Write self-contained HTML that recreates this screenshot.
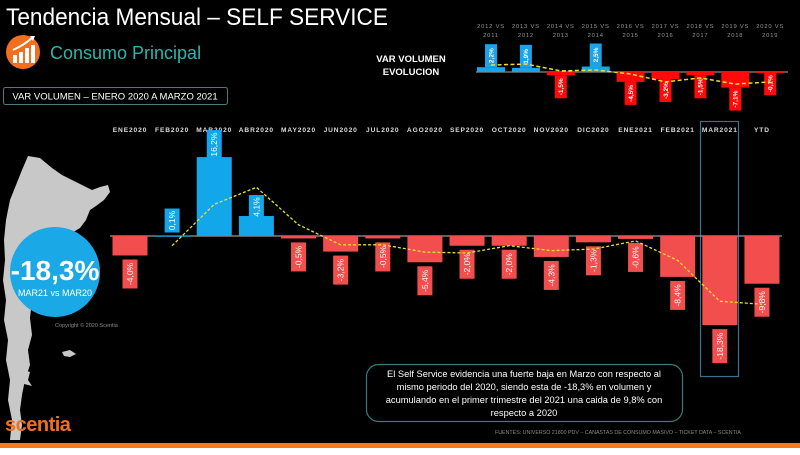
<!DOCTYPE html>
<html><head><meta charset="utf-8">
<style>
html,body{margin:0;padding:0;background:#fff;}
#root{position:relative;width:800px;height:455px;overflow:hidden;background:#000;font-family:"Liberation Sans",sans-serif;}
svg{position:absolute;left:0;top:0;}
</style></head>
<body>
<div id="root">
<svg id="svg" width="800" height="455" viewBox="0 0 800 455">
  <polygon fill="#c8c8c8" points="28,156 40,158 52,168 62,175 72,180 82,185 92,190 100,187 108,185 110,192 104,200 96,206 90,210 86,220 80,228 70,234 62,240 50,250 40,255 35,268 33,285 32,300 30,318 32,335 28,350 30,365 25,380 22,395 20,410 22,425 20,440 10,440 12,420 8,400 10,380 6,360 8,340 4,320 6,300 3,280 5,260 4,240 6,220 10,200 16,185 22,170"/>
  <polygon fill="#c8c8c8" points="18,368 30,372 28,380 32,386 24,384 18,378"/>
  <polygon fill="#c8c8c8" points="62,352 70,350 76,354 70,357 64,356"/>
  <circle cx="55" cy="272" r="45" fill="#1aa9e6"/>
  <text x="55" y="280" text-anchor="middle" fill="#fff" font-size="28" font-weight="bold">-18,3%</text>
  <text x="55" y="296" text-anchor="middle" fill="#fff" font-size="9">MAR21 vs MAR20</text>
  <text x="55" y="327" fill="#888" font-size="5.5">Copyright © 2020 Scentia</text>

  <text x="6" y="25" fill="#fff" font-size="24" textLength="382" lengthAdjust="spacingAndGlyphs">Tendencia Mensual –  SELF SERVICE</text>
  <g>
    <circle cx="23" cy="52" r="17" fill="#f07020"/>
    <rect x="13" y="55" width="4" height="8" fill="#fff"/>
    <rect x="19" y="52" width="4" height="11" fill="#fff"/>
    <rect x="25" y="48" width="4" height="15" fill="#fff"/>
    <rect x="31" y="45" width="4" height="18" fill="#fff"/>
    <path d="M13 50 Q24 45 32 38" stroke="#fff" stroke-width="2" fill="none"/>
    <polygon points="30,36 35,36 33,41" fill="#fff"/>
  </g>
  <text x="50" y="59" fill="#2cb5ae" font-size="18">Consumo Principal</text>
  <rect x="3.5" y="87.5" width="224" height="17" rx="2" fill="none" stroke="#4d7a80" stroke-width="1"/>
  <text x="115" y="99.5" text-anchor="middle" fill="#fff" font-size="9.5">VAR VOLUMEN – ENERO 2020 A MARZO 2021</text>

  <text x="411" y="62" text-anchor="middle" fill="#fff" font-size="9.5" font-weight="bold">VAR VOLUMEN</text>
  <text x="411" y="75" text-anchor="middle" fill="#fff" font-size="9.5" font-weight="bold">EVOLUCION</text>

  <rect x="700.5" y="121.5" width="38" height="255" fill="none" stroke="#3f6f8c" stroke-width="1.2"/>

  <g id="main"></g>
  <g id="small"></g>

  <rect x="366.5" y="364.5" width="316" height="57" rx="12" fill="#000" stroke="#3a7a7a" stroke-width="1.2"/>
  <g fill="#fff" font-size="9.3" text-anchor="middle">
    <text x="524" y="377">El Self Service evidencia una fuerte baja en Marzo con respecto al</text>
    <text x="524" y="390">mismo periodo del 2020, siendo esta de -18,3% en volumen y</text>
    <text x="524" y="403">acumulando en el primer trimestre del 2021 una caida de 9,8% con</text>
    <text x="524" y="416">respecto a 2020</text>
  </g>
  <text x="5" y="431" fill="#f07020" font-size="20" font-weight="bold" letter-spacing="-0.5">scentia</text>
  <text x="495" y="434" fill="#888" font-size="5.3">FUENTES: UNIVERSO 21800 PDV – CANASTAS DE CONSUMO MASIVO – TICKET DATA  – SCENTIA</text>
  <rect x="0" y="443" width="800" height="5" fill="#f47a20"/>
  <rect x="0" y="448" width="800" height="7" fill="#fff"/>
</svg>
</div>
<script>
const months = ["ENE2020","FEB2020","MAR2020","ABR2020","MAY2020","JUN2020","JUL2020","AGO2020","SEP2020","OCT2020","NOV2020","DIC2020","ENE2021","FEB2021","MAR2021","YTD"];
const monthValues = [-4.0,0.1,16.2,4.1,-0.5,-3.2,-0.5,-5.4,-2.0,-2.0,-4.3,-1.3,-0.6,-8.4,-18.3,-9.8];
const monthLabels = ["-4,0%","0,1%","16,2%","4,1%","-0,5%","-3,2%","-0,5%","-5,4%","-2,0%","-2,0%","-4,3%","-1,3%","-0,6%","-8,4%","-18,3%","-9,8%"];
const monthTrend = [null,-2.0,6.5,10.0,2.3,-1.8,-1.8,-3.3,-3.5,-2.0,-3.0,-2.7,-1.0,-5.0,-13.4,-14.0];

const years = [["2012 VS","2011"],["2013 VS","2012"],["2014 VS","2013"],["2015 VS","2014"],["2016 VS","2015"],["2017 VS","2016"],["2018 VS","2017"],["2019 VS","2018"],["2020 VS","2019"]];
const yearValues = [2.2,1.9,-1.5,2.5,-4.5,-3.2,-1.5,-7.1,-0.1];
const yearLabels = ["2,2%","1,9%","-1,5%","2,5%","-4,5%","-3,2%","-1,5%","-7,1%","-0,1%"];
const yearTrend = [3.2,3.6,0.5,0.9,-0.9,-4.5,-2.7,-5.5,-4.5];

const NS="http://www.w3.org/2000/svg";
function mk(tag,attrs,parent,txt){const e=document.createElementNS(NS,tag);for(const k in attrs)e.setAttribute(k,attrs[k]);if(txt!=null)e.textContent=txt;parent.appendChild(e);return e;}

const main=document.getElementById('main');
const x0=130, step=42.13, zeroY=236, k=4.87, bw=35;
const xM=i=>x0+i*step, yM=v=>zeroY-v*k;
months.forEach((m,i)=>{
  const t=mk('text',{x:xM(i),y:132,'text-anchor':'middle',fill:'#ddd','font-size':6.6,'font-weight':'bold','letter-spacing':0.9},main,m);
  
  
});
mk('line',{x1:110,x2:782,y1:zeroY,y2:zeroY,stroke:'#999','stroke-width':1.2},main);
monthValues.forEach((v,i)=>{
  const pos=v>=0, col=pos?'#12a7ea':'#f24e4e';
  const y=Math.min(yM(v),zeroY), h=Math.max(Math.abs(v)*k,1.2);
  const r=mk('rect',{x:xM(i)-bw/2,y:y,width:bw,height:h,fill:col},main);
  
  
  const lw=15, lh=monthLabels[i].length*5+4;
  let ly = pos ? yM(v)-lh-3 : yM(v)+4;
  if(i===2) ly=yM(v)-lh+2;
  if(i===3) ly=yM(v)-lh+3;
  const g=mk('g',{},main);
  
  
  mk('rect',{x:xM(i)-lw/2,y:ly,width:lw,height:lh,fill:col},g);
  const cx=xM(i), cy=ly+lh/2;
  mk('text',{x:cx,y:cy+3,'text-anchor':'middle',fill:'#fff','font-size':8.5,transform:`rotate(-90 ${cx} ${cy})`},g,monthLabels[i]);
});
let d='';
monthTrend.forEach((v,i)=>{if(v==null)return;const px=xM(i),py=yM(v);d+=(d?' L':'M')+px.toFixed(1)+' '+py.toFixed(1);});
const tl=mk('path',{d:d,fill:'none',stroke:'#e8e030','stroke-width':1.3,'stroke-dasharray':'3 2'},main);



const sm=document.getElementById('small');
const sx0=491, sstep=34.9, sZero=72, sk=2.2;
const xS=i=>sx0+i*sstep, yS=v=>sZero-v*sk;
years.forEach((y,i)=>{
  const g=mk('g',{fill:'#999','font-size':5.8,'text-anchor':'middle','letter-spacing':0.8},sm);
  
  
  mk('text',{x:xS(i),y:28},g,y[0]);
  mk('text',{x:xS(i),y:37},g,y[1]);
});
mk('line',{x1:476,x2:788,y1:sZero,y2:sZero,stroke:'#aaa','stroke-width':1},sm);
yearValues.forEach((v,i)=>{
  const pos=v>=0, col=pos?'#1aa3e8':'#ff0a0a';
  const h=Math.max(Math.abs(v)*sk,1);
  const r=mk('rect',{x:xS(i)-14,y:pos?yS(v):sZero,width:28,height:h,fill:col},sm);
  
  
  const lw=12, lh=23;
  const ly=pos?yS(v)-lh:yS(v);
  const g=mk('g',{},sm);
  
  
  mk('rect',{x:xS(i)-lw/2,y:ly,width:lw,height:lh,fill:col},g);
  const cx=xS(i), cy=ly+lh/2;
  mk('text',{x:cx,y:cy+2.3,'text-anchor':'middle',fill:'#fff','font-size':6.5,'font-weight':'bold',transform:`rotate(-90 ${cx} ${cy})`},g,yearLabels[i]);
});
let d2='';
yearTrend.forEach((v,i)=>{d2+=(i?' L':'M')+xS(i).toFixed(1)+' '+yS(v).toFixed(1);});
const tl2=mk('path',{d:d2,fill:'none',stroke:'#e8e030','stroke-width':1.5,'stroke-dasharray':'4 2.5'},sm);


</script>
</body></html>
